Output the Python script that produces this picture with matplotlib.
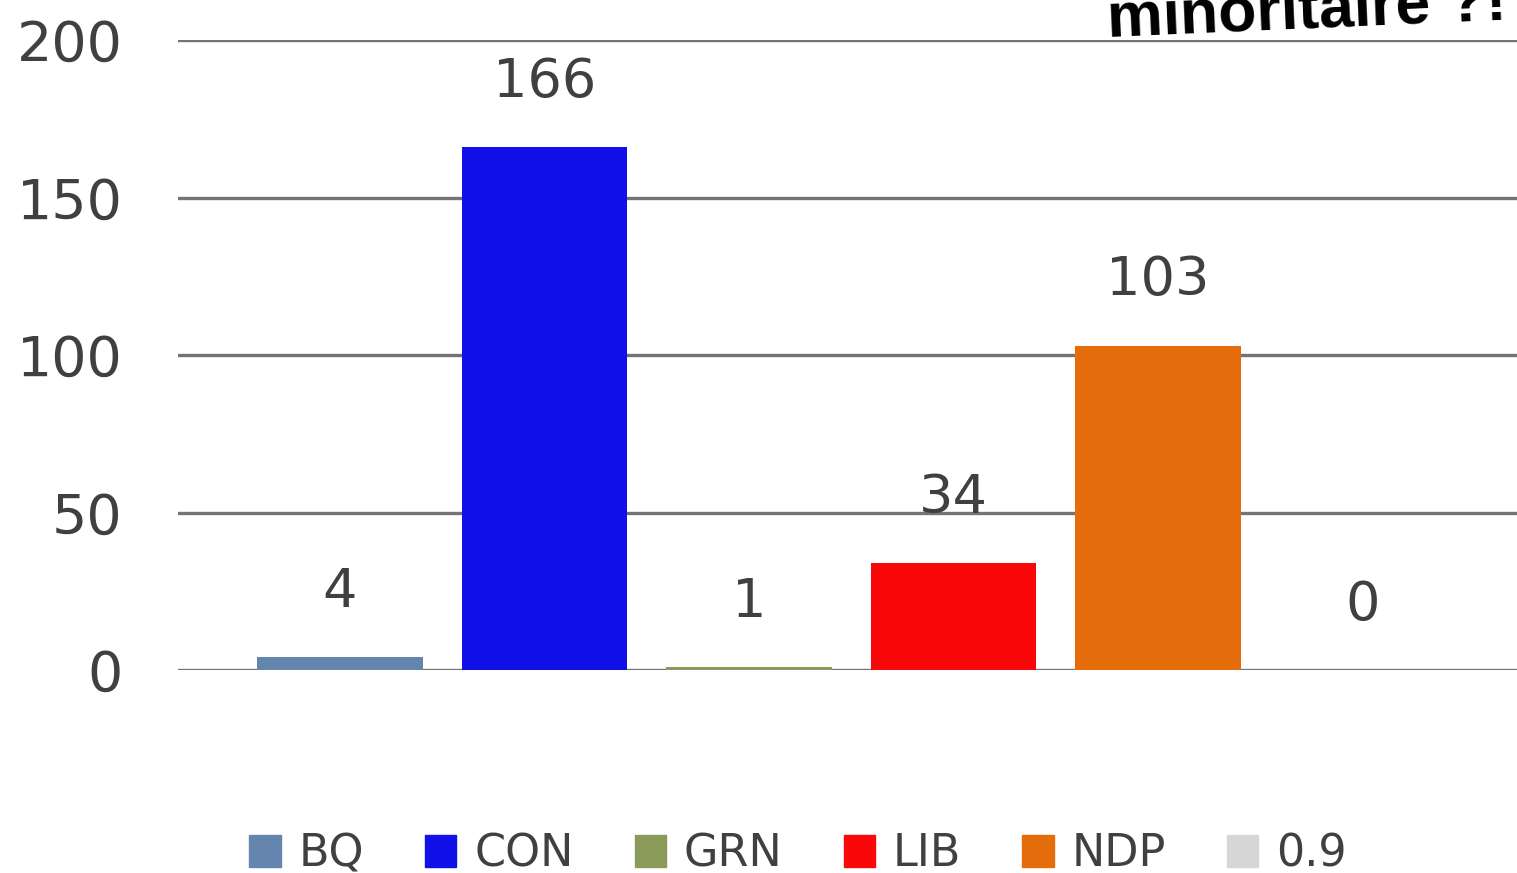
import matplotlib.pyplot as plt
from matplotlib.patches import Patch

parties = ["BQ", "CON", "GRN", "LIB", "NDP", "0.9"]
seats = [4, 166, 1, 34, 103, 0]
colors = ["#6485ad", "#1010e8", "#8a9a5b", "#f80808", "#e46c0a", "#d6d6d6"]
yticks = [0, 50, 100, 150, 200]

W, H = 1517, 873
fig = plt.figure(figsize=(W / 100, H / 100), dpi=100)
ax = fig.add_axes([178 / W, (H - 670) / H, 1 - 178 / W, 630 / H])

xs = list(range(len(parties)))
for x, v, c, p in zip(xs, seats, colors, parties):
    ax.bar(x, v, width=0.81, color=c, label=p, zorder=3)
    ax.annotate(str(v), (x, v), xytext=(0, 47), textcoords="offset points",
                ha="center", va="center", fontsize=39, color="#404040")

ax.set_xlim(-0.792, 5.756)
ax.set_ylim(0, 200)
ax.set_yticks(yticks)
ax.set_xticks([])
ax.grid(axis="y", color="#747474", linewidth=2.4, zorder=0)
ax.set_axisbelow(True)
for s in ax.spines.values():
    s.set_visible(False)
ax.tick_params(axis="y", length=0, pad=40, labelsize=40, labelcolor="#404040")
for lbl in ax.get_yticklabels():
    lbl.set_clip_on(False)

# legend along the bottom, one row
handles = [Patch(color=c) for c in colors]
ax.legend(handles, parties, loc="center", bbox_to_anchor=(798 / W, (H - 854) / H),
          bbox_transform=fig.transFigure, ncol=6, frameon=False, fontsize=32,
          handlelength=0.7, handleheight=0.7, handletextpad=0.4, columnspacing=1.38,
          labelcolor="#404040")

fig.text(1108 / W, (H - 37) / H, "minoritaire ?!", fontsize=45, fontweight="bold",
         family="Liberation Sans", color="black", rotation=2.5,
         rotation_mode="anchor", ha="left", va="baseline")

fig.savefig("out.png", dpi=100)
